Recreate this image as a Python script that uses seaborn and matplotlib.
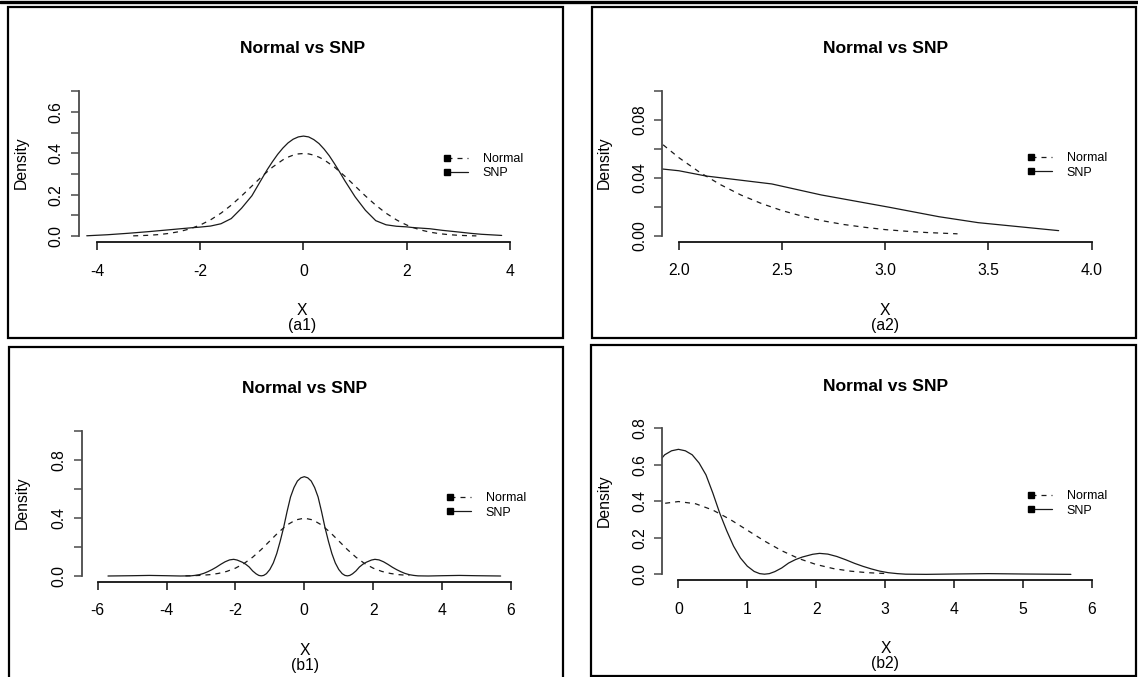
import matplotlib
matplotlib.use("Agg")
import matplotlib.pyplot as plt
import seaborn as sns
from matplotlib.lines import Line2D
from matplotlib.legend_handler import HandlerLine2D
from matplotlib.patches import Rectangle

# ---------------- data ----------------
# panels (a1)/(a2): a2 is a zoom on the right tail of a1
a_snp_x = [-4.2, -3.8, -3.4, -3.0, -2.6, -2.2, -2.0, -1.8, -1.6, -1.4, -1.2, -1.0,
           -0.8, -0.7, -0.6, -0.5, -0.4, -0.3, -0.2, -0.1, 0.0, 0.1, 0.2, 0.3, 0.4,
           0.5, 0.6, 0.7, 0.8, 1.0, 1.2, 1.4, 1.6, 1.8, 2.0, 2.13, 2.45, 2.69, 3.02,
           3.26, 3.45, 3.84]
a_snp_y = [0.002, 0.007, 0.014, 0.022, 0.031, 0.040, 0.044, 0.049, 0.060, 0.085,
           0.135, 0.195, 0.280, 0.322, 0.360, 0.395, 0.425, 0.450, 0.468, 0.479,
           0.483, 0.479, 0.466, 0.447, 0.420, 0.388, 0.350, 0.310, 0.268, 0.190,
           0.125, 0.075, 0.055, 0.048, 0.045, 0.0414, 0.0359, 0.0283, 0.0198,
           0.0133, 0.0092, 0.0037]

a_norm_x = [-3.3, -3.2, -3.0, -2.8, -2.6, -2.4, -2.2, -2.0, -1.8, -1.6, -1.4, -1.2,
            -1.0, -0.8, -0.6, -0.4, -0.3, -0.2, -0.1, 0.0, 0.1, 0.2, 0.3, 0.4, 0.6,
            0.8, 1.0, 1.2, 1.4, 1.6, 1.8, 1.9, 2.0, 2.1, 2.2, 2.3, 2.4, 2.5, 2.6,
            2.7, 2.8, 2.9, 3.0, 3.1, 3.2, 3.35]
a_norm_y = [0.0017, 0.0024, 0.0044, 0.0079, 0.0136, 0.0224, 0.0355, 0.0540, 0.0790,
            0.1109, 0.1497, 0.1942, 0.2420, 0.2897, 0.3332, 0.3683, 0.3814, 0.3910,
            0.3970, 0.3989, 0.3970, 0.3910, 0.3814, 0.3683, 0.3332, 0.2897, 0.2420,
            0.1942, 0.1497, 0.1109, 0.0790, 0.0656, 0.0540, 0.0440, 0.0355, 0.0283,
            0.0224, 0.0175, 0.0136, 0.0104, 0.0079, 0.0060, 0.0044, 0.0033, 0.0024,
            0.0015]

# panels (b1)/(b2): b2 is the right half of b1
b_snp_x = [-5.7, -5.0, -4.5, -4.0, -3.6, -3.3, -3.18, -3.05, -2.92, -2.8, -2.68,
           -2.56, -2.43, -2.3, -2.17, -2.05, -1.95, -1.8, -1.7, -1.6, -1.5, -1.4,
           -1.32, -1.25, -1.18, -1.1, -1.0, -0.9, -0.8, -0.7, -0.6, -0.5, -0.4, -0.3,
           -0.2, -0.1, 0.0, 0.1, 0.2, 0.3, 0.4, 0.5, 0.6, 0.7, 0.8, 0.9, 1.0, 1.1,
           1.18, 1.25, 1.32, 1.4, 1.5, 1.6, 1.7, 1.8, 1.95, 2.05, 2.17, 2.3, 2.43,
           2.56, 2.68, 2.8, 2.92, 3.05, 3.18, 3.3, 3.6, 4.0, 4.5, 5.0, 5.7]
b_snp_y = [0.000, 0.002, 0.004, 0.002, 0.000, 0.001, 0.004, 0.009, 0.018, 0.030,
           0.044, 0.060, 0.080, 0.098, 0.111, 0.115, 0.110, 0.095, 0.081, 0.062,
           0.035, 0.015, 0.004, 0.001, 0.004, 0.016, 0.045, 0.090, 0.155, 0.240,
           0.335, 0.445, 0.545, 0.610, 0.655, 0.677, 0.685, 0.677, 0.655, 0.610,
           0.545, 0.445, 0.335, 0.240, 0.155, 0.090, 0.045, 0.016, 0.004, 0.001,
           0.004, 0.015, 0.035, 0.062, 0.081, 0.095, 0.110, 0.115, 0.111, 0.098,
           0.080, 0.060, 0.044, 0.030, 0.018, 0.009, 0.004, 0.001, 0.000, 0.002,
           0.004, 0.002, 0.000]

b_norm_x = [-3.45, -3.25, -3.0, -2.75, -2.5, -2.25, -2.0, -1.75, -1.5, -1.25, -1.0,
            -0.75, -0.5, -0.25, 0.0, 0.25, 0.5, 0.75, 1.0, 1.25, 1.5, 1.75, 2.0,
            2.25, 2.5, 2.75, 3.05]
b_norm_y = [0.0010, 0.0020, 0.0044, 0.0091, 0.0175, 0.0317, 0.0540, 0.0863, 0.1295,
            0.1826, 0.2420, 0.3011, 0.3521, 0.3867, 0.3989, 0.3867, 0.3521, 0.3011,
            0.2420, 0.1826, 0.1295, 0.0863, 0.0540, 0.0317, 0.0175, 0.0091, 0.0038]

# ticks and labels
a1_xticks = [-4, -2, 0, 2, 4]
a1_xlabels = ["-4", "-2", "0", "2", "4"]
a1_yticks = [0.0, 0.1, 0.2, 0.3, 0.4, 0.5, 0.6, 0.7]
a1_ylabels = ["0.0", "", "0.2", "", "0.4", "", "0.6", ""]

a2_xticks = [2.0, 2.5, 3.0, 3.5, 4.0]
a2_xlabels = ["2.0", "2.5", "3.0", "3.5", "4.0"]
a2_yticks = [0.00, 0.02, 0.04, 0.06, 0.08, 0.10]
a2_ylabels = ["0.00", "", "0.04", "", "0.08", ""]

b1_xticks = [-6, -4, -2, 0, 2, 4, 6]
b1_xlabels = ["-6", "-4", "-2", "0", "2", "4", "6"]
b1_yticks = [0.0, 0.2, 0.4, 0.6, 0.8, 1.0]
b1_ylabels = ["0.0", "", "0.4", "", "0.8", ""]

b2_xticks = [0, 1, 2, 3, 4, 5, 6]
b2_xlabels = ["0", "1", "2", "3", "4", "5", "6"]
b2_yticks = [0.0, 0.2, 0.4, 0.6, 0.8]
b2_ylabels = ["0.0", "0.2", "0.4", "0.6", "0.8"]

title_text = "Normal vs SNP"
legend_labels = ["Normal", "SNP"]
xlab = "X"
ylab = "Density"
subs = ["(a1)", "(a2)", "(b1)", "(b2)"]

# ---------------- styling ----------------
sns.set_style("white")
plt.rcParams["font.family"] = ["Liberation Sans", "DejaVu Sans"]
plt.rcParams["text.color"] = "black"
plt.rcParams["axes.labelcolor"] = "black"
plt.rcParams["xtick.color"] = "black"
plt.rcParams["ytick.color"] = "black"

W, H = 1138, 677
fig = plt.figure(figsize=(W / 100, H / 100), dpi=100)


def fx(px):
    return px / W


def fy(py):
    return 1 - py / H


class FirstMarkerHandler(HandlerLine2D):
    """Legend entry: line with a filled square only at its left end."""

    def create_artists(self, legend, orig_handle, xdescent, ydescent, width,
                       height, fontsize, trans):
        arts = super().create_artists(legend, orig_handle, xdescent, ydescent,
                                      width, height, fontsize, trans)
        for a in arts:
            if isinstance(a, Line2D):
                a.set_markevery([0])
        return arts


LINE_C = "#1a1a1a"
DASH = (0, (4, 4))

panels = [
    dict(box=(79, 85.3, 525.4, 242.0), xlim=(-4.35, 4.30), ylim=(-0.028, 0.728),
         snp=(a_snp_x, a_snp_y), norm=(a_norm_x, a_norm_y),
         xt=a1_xticks, xl=a1_xlabels, yt=a1_yticks, yl=a1_ylabels,
         frame=(8, 7, 563, 338), leg=(447, 153), dens_x=21, xlab_y=315, sub_y=330),
    dict(box=(662.4, 85.2, 1108.2, 241.8), xlim=(1.92, 4.08), ylim=(-0.004, 0.104),
         snp=(a_snp_x, a_snp_y), norm=(a_norm_x, a_norm_y),
         xt=a2_xticks, xl=a2_xlabels, yt=a2_yticks, yl=a2_ylabels,
         frame=(591.5, 7, 1136, 338), leg=(1031, 152), dens_x=604, xlab_y=315, sub_y=330),
    dict(box=(81.8, 425.2, 527.5, 581.8), xlim=(-6.46, 6.48), ylim=(-0.04, 1.04),
         snp=(b_snp_x, b_snp_y), norm=(b_norm_x, b_norm_y),
         xt=b1_xticks, xl=b1_xlabels, yt=b1_yticks, yl=b1_ylabels,
         frame=(9, 347, 563, 679), leg=(450, 492), dens_x=22, xlab_y=655, sub_y=670),
    dict(box=(662.4, 422.5, 1108.4, 580.2), xlim=(-0.233, 6.245), ylim=(-0.032, 0.832),
         snp=(b_snp_x, b_snp_y), norm=(b_norm_x, b_norm_y),
         xt=b2_xticks, xl=b2_xlabels, yt=b2_yticks, yl=b2_ylabels,
         frame=(591, 345, 1136, 675.5), leg=(1031, 490), dens_x=604, xlab_y=653, sub_y=668),
]

handles = [
    Line2D([], [], color=LINE_C, lw=0.9, linestyle=DASH, marker="s", markersize=4.2,
           markerfacecolor="black", markeredgecolor="black"),
    Line2D([], [], color=LINE_C, lw=0.9, linestyle="-", marker="s", markersize=4.2,
           markerfacecolor="black", markeredgecolor="black"),
]

for i, p in enumerate(panels):
    l, t, r, b = p["box"]
    ax = fig.add_axes([fx(l), fy(b), (r - l) / W, (b - t) / H])
    ax.set_facecolor("none")
    sns.lineplot(x=p["norm"][0], y=p["norm"][1], ax=ax, color=LINE_C, lw=0.9,
                 linestyle=DASH, estimator=None, sort=False)
    sns.lineplot(x=p["snp"][0], y=p["snp"][1], ax=ax, color=LINE_C, lw=0.9,
                 linestyle="-", estimator=None, sort=False)
    ax.set_xlim(*p["xlim"])
    ax.set_ylim(*p["ylim"])
    ax.set_xlabel("")
    ax.set_ylabel("")

    for s in ("top", "right"):
        ax.spines[s].set_visible(False)
    ax.spines["left"].set_bounds(p["yt"][0], p["yt"][-1])
    ax.spines["bottom"].set_bounds(p["xt"][0], p["xt"][-1])
    ax.spines["left"].set_color("#4a4a4a")
    ax.spines["bottom"].set_color("#111111")
    ax.spines["left"].set_linewidth(1.3)
    ax.spines["bottom"].set_linewidth(1.3)

    ax.set_xticks(p["xt"])
    ax.set_xticklabels(p["xl"])
    ax.set_yticks(p["yt"])
    ax.set_yticklabels(p["yl"], rotation=90, va="center")
    ax.tick_params(axis="x", direction="out", length=5.5, width=1.1, color="#111111",
                   labelsize=11.3, pad=10, bottom=True, labelcolor="black")
    ax.tick_params(axis="y", direction="out", length=5.5, width=1.1, color="#4a4a4a",
                   labelsize=11.3, pad=5.5, left=True, labelcolor="black")

    ax.set_title(title_text, fontsize=12.6, fontweight="bold", pad=23, color="black")

    cx = (l + r) / 2
    fig.text(fx(cx), fy(p["xlab_y"]), xlab, ha="center", va="baseline", fontsize=11.3)
    fig.text(fx(cx), fy(p["sub_y"]), subs[i], ha="center", va="baseline", fontsize=11.3)
    fig.text(fx(p["dens_x"]), fy((t + b) / 2 - 1), ylab, rotation=90, ha="center",
             va="center", fontsize=11.3)

    lx, ly = p["leg"]
    ax.legend(handles, legend_labels, loc="upper left",
              bbox_to_anchor=(fx(lx), fy(ly)), bbox_transform=fig.transFigure,
              frameon=False, borderpad=0, borderaxespad=0, fontsize=9,
              handlelength=1.65, handletextpad=1.2, labelspacing=0.2,
              handler_map={Line2D: FirstMarkerHandler(marker_pad=0, numpoints=2)})

    fl, ft, fr, fb = p["frame"]
    fig.add_artist(Rectangle((fx(fl), fy(fb)), (fr - fl) / W, (fb - ft) / H,
                             transform=fig.transFigure, fill=False,
                             edgecolor="black", lw=1.6))

# top rule across the whole image
fig.add_artist(Line2D([0, 1], [fy(1.8), fy(1.8)], transform=fig.transFigure,
                      color="black", lw=2.4))

fig.savefig("out.png", dpi=100)
